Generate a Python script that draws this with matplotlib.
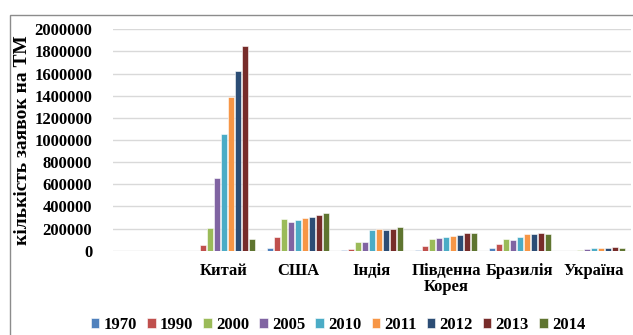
import matplotlib
matplotlib.use("Agg")
import matplotlib.pyplot as plt
import numpy as np
from matplotlib.patches import Rectangle

plt.rcParams['font.family'] = ['Liberation Serif', 'DejaVu Serif']
plt.rcParams['font.weight'] = 'bold'

countries = ["", "Китай", "США", "Індія", "Південна\nКорея", "Бразилія", "Україна"]
years = ["1970", "1990", "2000", "2005", "2010", "2011", "2012", "2013", "2014"]
colors = ["#4f81bd", "#c0504d", "#9bbb59", "#8064a2", "#4bacc6",
          "#f79646", "#2c4d75", "#772c2a", "#5f7530"]

v1970 = [0, 0, 28000, 4000, 3000, 27000, 0]
v1990 = [0, 51000, 120000, 12000, 39000, 57000, 0]
v2000 = [0, 208000, 285000, 78000, 102000, 102000, 5000]
v2005 = [0, 657000, 258000, 80000, 117000, 93000, 18000]
v2010 = [0, 1054000, 274000, 183000, 123000, 123000, 21000]
v2011 = [0, 1388000, 298000, 192000, 129000, 147000, 21000]
v2012 = [0, 1623000, 307000, 183000, 138000, 147000, 27000]
v2013 = [0, 1849000, 319000, 192000, 156000, 159000, 30000]
v2014 = [0, 103000, 337000, 216000, 156000, 150000, 22000]
series = [v1970, v1990, v2000, v2005, v2010, v2011, v2012, v2013, v2014]

fig = plt.figure(figsize=(6.33, 3.35), dpi=100)
fig.patches.append(Rectangle((10 / 633, -0.1), 1.2, 1 - 15 / 335 + 0.1,
                             transform=fig.transFigure, fill=False,
                             edgecolor="#8c8c8c", linewidth=1.0))
ax = fig.add_axes([113 / 633, 1 - 250.7 / 335, 518 / 633, (250.7 - 29.3) / 335])

x = np.arange(len(countries))
step = 0.096
width = 0.082
for i, (vals, col, yr) in enumerate(zip(series, colors, years)):
    ax.bar(x + (i - 4) * step, vals, width=width, color=col, label=yr,
           edgecolor="white", linewidth=0.4, zorder=3)

ax.set_xlim(-0.5, len(countries) - 0.5)
ax.set_ylim(0, 2000000)
ax.set_yticks(np.arange(0, 2000001, 200000))
ax.set_yticklabels([str(v) for v in range(0, 2000001, 200000)],
                   fontsize=12, fontweight='bold')
ax.set_xticks(x)
ax.set_xticklabels(countries, fontsize=12, fontweight='bold', linespacing=1.0)
ax.tick_params(axis='both', length=0)
ax.tick_params(axis='y', pad=15)
ax.tick_params(axis='x', pad=9)
ax.grid(axis='y', color="#d9d9d9", linewidth=1.0, zorder=0)
for s in ax.spines.values():
    s.set_visible(False)
ax.set_ylabel("кількість заявок на ТМ", fontsize=14, fontweight='bold')
ax.yaxis.set_label_coords(-0.158, 0.5)

leg = fig.legend(loc='center left', bbox_to_anchor=(91 / 633, 1 - 325 / 335),
                 ncol=9, frameon=False, fontsize=12, handlelength=0.5,
                 handleheight=0.5, handletextpad=0.25, columnspacing=0.62,
                 borderaxespad=0, borderpad=0)
for t in leg.get_texts():
    t.set_fontweight('bold')

fig.savefig("out.png", dpi=100)
